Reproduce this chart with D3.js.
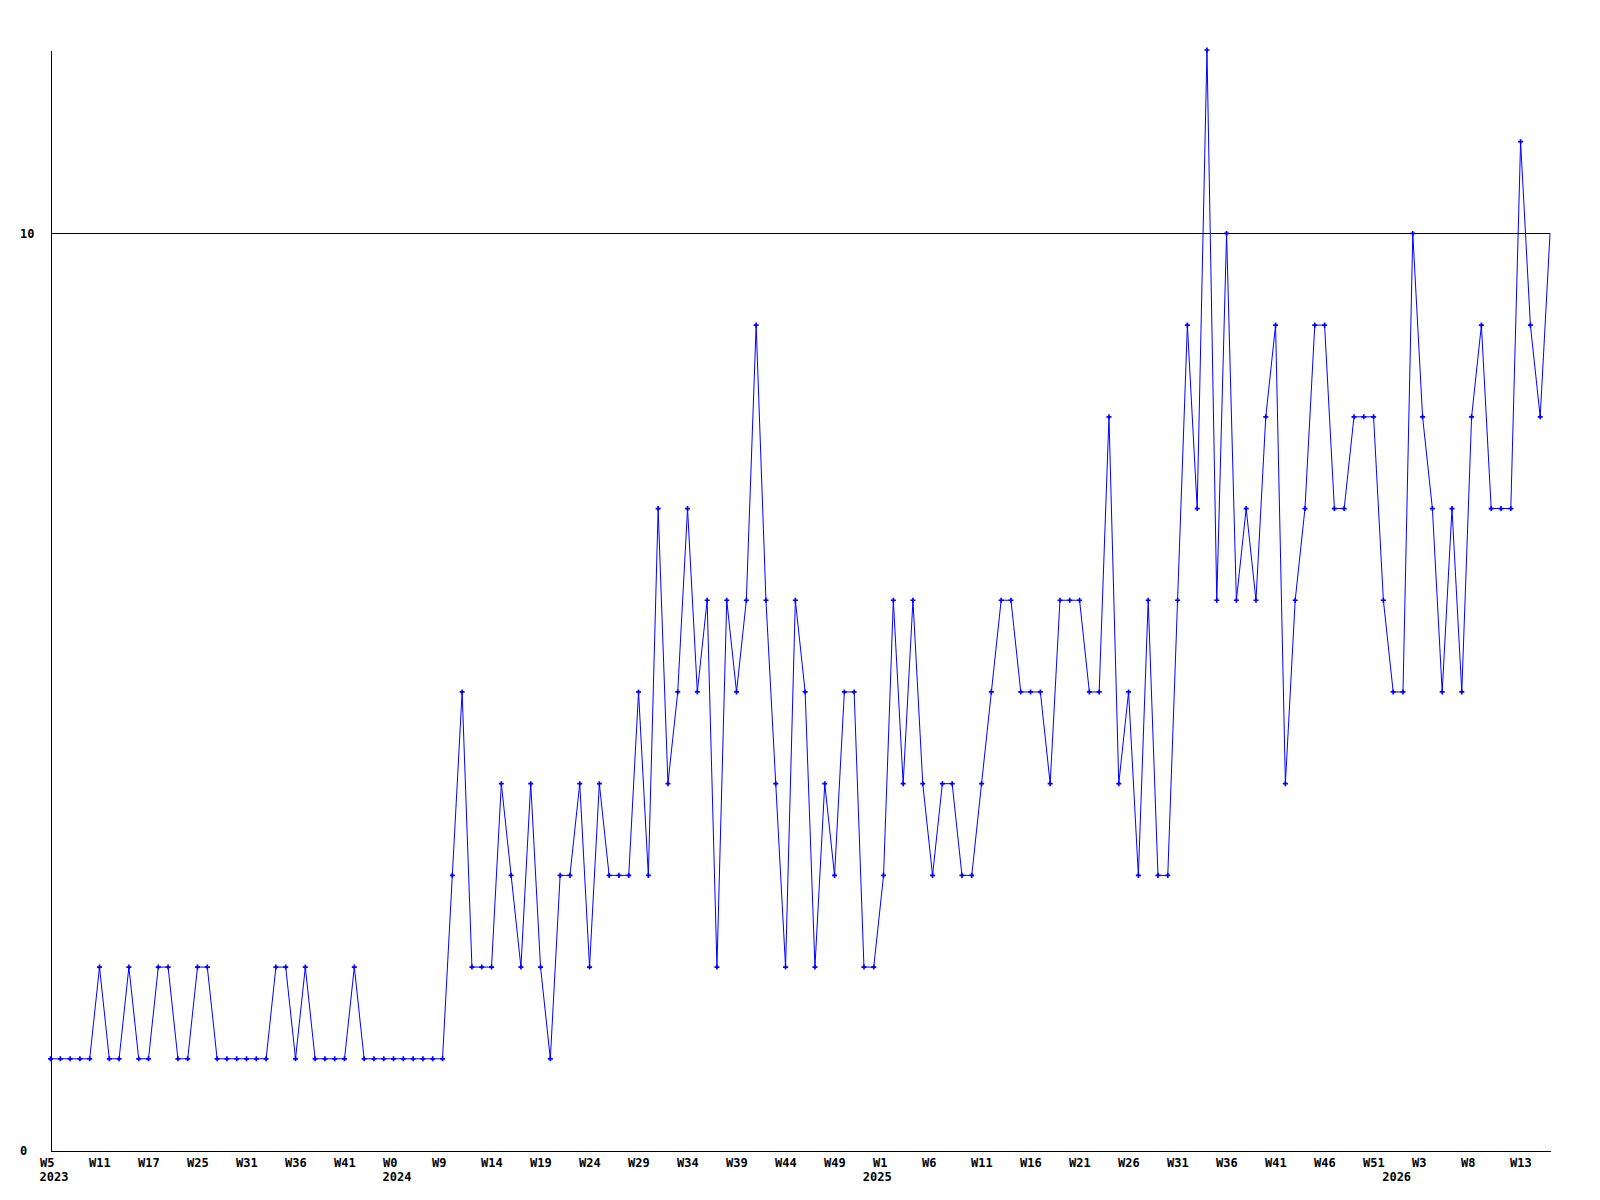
<!DOCTYPE html>
<html>
<head>
<meta charset="utf-8">
<script src="https://cdn.jsdelivr.net/npm/d3@7"></script>
<style>
  html, body { margin: 0; padding: 0; background: #fff; }
  svg { display: block; }
  .lbl { font-family: "DejaVu Sans Mono", "Liberation Mono", monospace; font-weight: bold; font-size: 12px; fill: #000; }
</style>
</head>
<body>
<div id="chart"></div>
<script>
// weekly values, one per point
const values = [
  1, 1, 1, 1, 1, 2, 1, 1, 2, 1,
  1, 2, 2, 1, 1, 2, 2, 1, 1, 1,
  1, 1, 1, 2, 2, 1, 2, 1, 1, 1,
  1, 2, 1, 1, 1, 1, 1, 1, 1, 1,
  1, 3, 5, 2, 2, 2, 4, 3, 2, 4,
  2, 1, 3, 3, 4, 2, 4, 3, 3, 3,
  5, 3, 7, 4, 5, 7, 5, 6, 2, 6,
  5, 6, 9, 6, 4, 2, 6, 5, 2, 4,
  3, 5, 5, 2, 2, 3, 6, 4, 6, 4,
  3, 4, 4, 3, 3, 4, 5, 6, 6, 5,
  5, 5, 4, 6, 6, 6, 5, 5, 8, 4,
  5, 3, 6, 3, 3, 6, 9, 7, 12, 6,
  10, 6, 7, 6, 8, 9, 4, 6, 7, 9,
  9, 7, 7, 8, 8, 8, 6, 5, 5, 10,
  8, 7, 5, 7, 5, 8, 9, 7, 7, 7,
  11, 9, 8, 10
];

// a label every 5th point
const weekLabels = [
  'W5', 'W11', 'W17', 'W25', 'W31', 'W36', 'W41', 'W0', 'W9', 'W14',
  'W19', 'W24', 'W29', 'W34', 'W39', 'W44', 'W49', 'W1', 'W6', 'W11',
  'W16', 'W21', 'W26', 'W31', 'W36', 'W41', 'W46', 'W51', 'W3', 'W8', 'W13'
];
// year labels sit at the first point of each year
const yearIndex = [0, 35, 84, 137];
const yearLabels = ['2023', '2024', '2025', '2026'];
const yTicks = [0, 10];

const width = 1600;
const height = 1200;
const margin = { left: 50.5, right: 1550, top: 50, bottom: 1150.5 };

const x = d3.scaleLinear().domain([0, values.length - 1]).range([margin.left, margin.right]);
const y = d3.scaleLinear().domain([0, 12]).range([margin.bottom, margin.top]);

const svg = d3.select('#chart').append('svg')
  .attr('width', width)
  .attr('height', height)
  .attr('viewBox', [0, 0, width, height]);

// grid line at 10
svg.append('g')
  .selectAll('line')
  .data(yTicks.filter((d) => d > 0))
  .join('line')
  .attr('x1', margin.left)
  .attr('x2', margin.right)
  .attr('y1', (d) => Math.round(y(d)) + 0.5)
  .attr('y2', (d) => Math.round(y(d)) + 0.5)
  .attr('stroke', '#000')
  .attr('shape-rendering', 'crispEdges');

// y axis
const yAxis = svg.append('g')
  .attr('transform', `translate(${margin.left},0)`)
  .call(d3.axisLeft(y).tickValues(yTicks).tickSize(0).tickSizeOuter(0).tickFormat(d3.format('d')));
yAxis.select('.domain').attr('stroke', '#000').attr('shape-rendering', 'crispEdges');
yAxis.selectAll('text')
  .attr('class', 'lbl')
  .attr('x', 20 - margin.left)
  .attr('dy', '0.35em')
  .attr('text-anchor', 'start');

// x axis
const xAxis = svg.append('g')
  .attr('transform', `translate(0,${margin.bottom})`)
  .call(d3.axisBottom(x)
    .tickValues(weekLabels.map((d, i) => i * 5))
    .tickSize(0)
    .tickSizeOuter(0)
    .tickFormat((d) => weekLabels[d / 5]));
xAxis.select('.domain').attr('stroke', '#000').attr('shape-rendering', 'crispEdges');
xAxis.selectAll('text')
  .attr('class', 'lbl')
  .attr('text-anchor', 'start')
  .attr('dx', -11)
  .attr('y', 16.5)
  .attr('dy', 0);

svg.append('g')
  .selectAll('text')
  .data(yearLabels)
  .join('text')
  .attr('class', 'lbl')
  .attr('x', (d, i) => x(yearIndex[i]) - 11)
  .attr('y', margin.bottom + 30.5)
  .text((d) => d);

// series
const line = d3.line()
  .x((d, i) => x(i))
  .y((d) => y(d));

svg.append('path')
  .datum(values)
  .attr('fill', 'none')
  .attr('stroke', '#0000ff')
  .attr('stroke-width', 1)
  .attr('d', line);

// markers on every point but the last, which the source leaves bare
svg.append('g')
  .selectAll('path')
  .data(values.slice(0, -1))
  .join('path')
  .attr('transform', (d, i) => `translate(${x(i)},${y(d)})`)
  .attr('d', d3.symbol(d3.symbolCross, 14))
  .attr('fill', '#0000ff');
</script>
</body>
</html>
